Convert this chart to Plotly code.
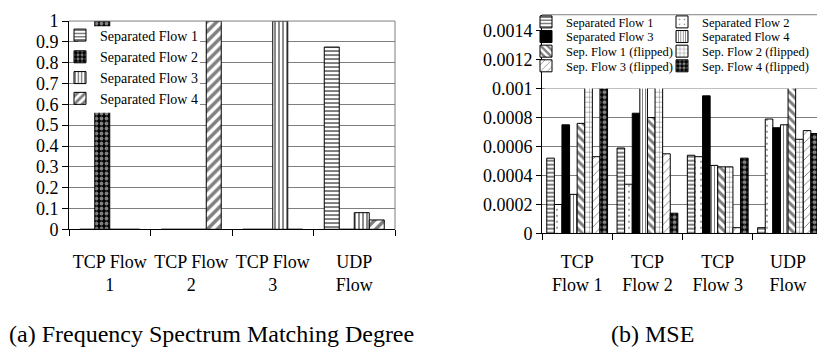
import plotly.graph_objects as go

# ---------------- data ----------------
categories = ["TCP Flow 1", "TCP Flow 2", "TCP Flow 3", "UDP Flow"]
ticklabels_a = ["TCP Flow<br>1", "TCP Flow<br>2", "TCP Flow<br>3", "UDP<br>Flow"]
ticklabels_b = ["TCP<br>Flow 1", "TCP<br>Flow 2", "TCP<br>Flow 3", "UDP<br>Flow"]

# (a) Frequency spectrum matching degree
sep1_a = [0.0, 0.0, 0.0, 0.875]
sep2_a = [1.0, 0.0, 0.0, 0.0]
sep3_a = [0.0, 0.0, 1.0, 0.08]
sep4_a = [0.0, 1.0, 0.0, 0.045]

# (b) MSE
sep1_b = [0.00052, 0.00059, 0.00054, 0.00004]
sep2_b = [0.00020, 0.00034, 0.00053, 0.00079]
sep3_b = [0.00075, 0.00083, 0.00095, 0.00073]
sep4_b = [0.00027, 0.00110, 0.00047, 0.00075]
sep1f_b = [0.00076, 0.00080, 0.00046, 0.00110]
sep2f_b = [0.00110, 0.00110, 0.00046, 0.00065]
sep3f_b = [0.00053, 0.00055, 0.00004, 0.00071]
sep4f_b = [0.00110, 0.00014, 0.00052, 0.00069]

names_a = ["Separated Flow 1", "Separated Flow 2", "Separated Flow 3", "Separated Flow 4"]
names_b = ["Separated Flow 1", "Separated Flow 2", "Separated Flow 3", "Separated Flow 4",
           "Sep. Flow 1 (flipped)", "Sep. Flow 2 (flipped)",
           "Sep. Flow 3 (flipped)", "Sep. Flow 4 (flipped)"]

# ---------------- styles ----------------
W, H = 817, 358
FONT = "Liberation Serif"

def px_x(p):
    return p / W

def px_y(p):
    return 1 - p / H

pat_a = [
    dict(shape="-", size=4, solidity=0.5, fgcolor="black", bgcolor="white"),
    dict(shape=".", size=5, solidity=0.45, fgcolor="white", bgcolor="black"),
    dict(shape="|", size=4, solidity=0.45, fgcolor="black", bgcolor="white"),
    dict(shape="/", size=7, solidity=0.5, fgcolor="black", bgcolor="white"),
]
pat_b = [
    dict(shape="-", size=4, solidity=0.5, fgcolor="black", bgcolor="white"),
    dict(shape=".", size=6, solidity=0.08, fgcolor="black", bgcolor="white"),
    None,
    dict(shape="|", size=3, solidity=0.35, fgcolor="black", bgcolor="white"),
    dict(shape="\\", size=6, solidity=0.5, fgcolor="black", bgcolor="white"),
    dict(shape="+", size=5, solidity=0.2, fgcolor="black", bgcolor="white"),
    dict(shape="/", size=6, solidity=0.15, fgcolor="black", bgcolor="white"),
    dict(shape=".", size=5, solidity=0.5, fgcolor="white", bgcolor="black"),
]

fig = go.Figure()

# ---- chart (a): explicit width/offset so the two panels can have different gaps
series_a = [sep1_a, sep2_a, sep3_a, sep4_a]
bw_a = 0.184
n_a = len(series_a)
for i, (vals, nm) in enumerate(zip(series_a, names_a)):
    lg = "legend" if i == 0 else f"legend{i+1}"
    fig.add_trace(go.Bar(
        x=categories, y=vals, name=nm, xaxis="x", yaxis="y",
        width=bw_a, offset=-bw_a * n_a / 2 + i * bw_a,
        marker=dict(color="white", line=dict(color="black", width=1), pattern=pat_a[i]),
        legend=lg, showlegend=True,
    ))

# ---- chart (b): grouped
series_b = [sep1_b, sep2_b, sep3_b, sep4_b, sep1f_b, sep2f_b, sep3f_b, sep4f_b]
for j, (vals, nm) in enumerate(zip(series_b, names_b)):
    lg = f"legend{n_a + j + 1}"
    mk = dict(color="white", line=dict(color="black", width=1))
    if pat_b[j] is None:
        mk["color"] = "black"
    else:
        mk["pattern"] = pat_b[j]
    fig.add_trace(go.Bar(
        x=categories, y=vals, name=nm, xaxis="x2", yaxis="y2",
        marker=mk, legend=lg, showlegend=True,
    ))

# ---------------- layout ----------------
tickfont = dict(family=FONT, size=18, color="black")
legfont_a = dict(family=FONT, size=14, color="black")
legfont_b = dict(family=FONT, size=12.5, color="black")

layout = dict(
    width=W, height=H,
    margin=dict(l=0, r=0, t=0, b=0),
    paper_bgcolor="white", plot_bgcolor="white",
    showlegend=True,
    barmode="group", bargap=0.135, bargroupgap=0,
    font=dict(family=FONT, color="black"),
    xaxis=dict(domain=[px_x(69), px_x(395)], type="category", range=[-0.5, 3.5],
               tickvals=categories, ticktext=ticklabels_a, tickson="boundaries",
               ticks="outside", ticklen=6, tickcolor="black", tickangle=0,
               showline=True, linecolor="black", linewidth=1, showgrid=False,
               tickfont=tickfont, anchor="y", ticklabelstandoff=16),
    yaxis=dict(domain=[px_y(232.3), px_y(11.7)], range=[0, 1], dtick=0.1,
               showgrid=True, gridcolor="#7f7f7f", gridwidth=1,
               showline=True, linecolor="black", linewidth=1,
               ticks="outside", ticklen=6, tickcolor="black",
               tickfont=tickfont, anchor="x", zeroline=False),
    xaxis2=dict(domain=[px_x(542), 1.0], type="category",
                range=[-0.5, -0.5 + (W - 542) / 70.3],
                tickvals=categories, ticktext=ticklabels_b, tickson="boundaries",
                ticks="outside", ticklen=6, tickcolor="black", tickangle=0,
                showline=True, linecolor="black", linewidth=1, showgrid=False,
                tickfont=tickfont, anchor="y2", ticklabelstandoff=12),
    yaxis2=dict(domain=[px_y(236.7), px_y(5)], range=[0, 0.00151], dtick=0.0002,
                tickformat=".4~f", exponentformat="none",
                showgrid=True, gridcolor="#7f7f7f", gridwidth=1,
                showline=True, linecolor="black", linewidth=1,
                ticks="outside", ticklen=5, tickcolor="black",
                tickfont=tickfont, anchor="x2", zeroline=False),
)

# legends for (a): one entry each, stacked
rows_a = [27, 50, 72, 94]
for i in range(n_a):
    key = "legend" if i == 0 else f"legend{i+1}"
    layout[key] = dict(x=px_x(60), xanchor="left", y=px_y(rows_a[i]), yanchor="middle",
                       bgcolor="rgba(0,0,0,0)", borderwidth=0, font=legfont_a,
                       itemwidth=30, tracegroupgap=0, visible=True)
# legends for (b): two columns, four rows
rows_b = [13, 28.5, 44, 59.5]
cols_b = [526, 662]
for j in range(len(series_b)):
    key = f"legend{n_a + j + 1}"
    layout[key] = dict(x=px_x(cols_b[j % 2]), xanchor="left", y=px_y(rows_b[j // 2]), yanchor="middle",
                       bgcolor="rgba(0,0,0,0)", borderwidth=0, font=legfont_b,
                       itemwidth=30, tracegroupgap=0, visible=True)

border = dict(color="#7f7f7f", width=1)
layout["shapes"] = [
    # legend backgrounds
    dict(type="rect", xref="paper", yref="y", x0=px_x(78), x1=px_x(200), y0=0.56, y1=0.975,
         fillcolor="white", line=dict(width=0), layer="above"),
    dict(type="rect", xref="x2 domain", yref="y2", x0=0.01, x1=1.0, y0=0.001, y1=0.00149,
         fillcolor="white", line=dict(width=0), layer="above"),
    # plot borders
    dict(type="line", xref="x domain", yref="y domain", x0=0, x1=1, y0=1, y1=1, line=border, layer="above"),
    dict(type="line", xref="x domain", yref="y domain", x0=1, x1=1, y0=0, y1=1, line=border, layer="above"),
    dict(type="line", xref="x2 domain", yref="y2 domain", x0=0, x1=1, y0=1, y1=1, line=border, layer="above"),
]

capfont = dict(family=FONT, size=24, color="black")
layout["annotations"] = [
    dict(text="(a) Frequency Spectrum Matching Degree", xref="paper", yref="paper",
         x=px_x(7), y=px_y(343), xanchor="left", yanchor="middle", showarrow=False, font=capfont),
    dict(text="(b) MSE", xref="paper", yref="paper",
         x=px_x(609), y=px_y(343), xanchor="left", yanchor="middle", showarrow=False, font=capfont),
]

fig.update_layout(**layout)
fig.write_html("out.html")
